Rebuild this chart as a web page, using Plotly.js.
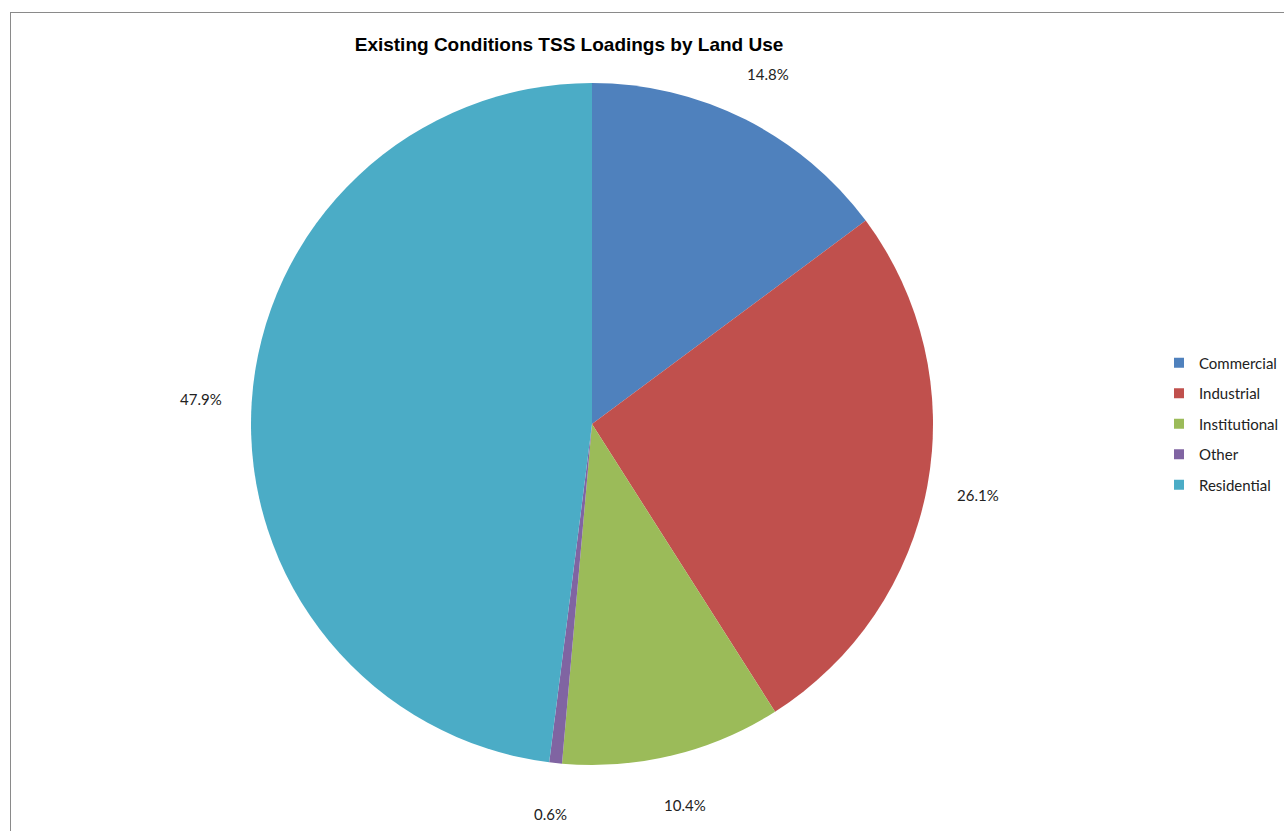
<!DOCTYPE html>
<html>
<head>
<meta charset="utf-8">
<script src="https://cdn.plot.ly/plotly-3.0.1.min.js"></script>
<style>
  html, body { margin: 0; padding: 0; background: #fff; overflow: hidden; }
  #chart { position: absolute; left: 0; top: 0; width: 1284px; height: 831px; }
  #frame { position: absolute; left: 10px; top: 12px; width: 1400px; height: 900px;
           border-left: 1px solid #8a8a8a; border-top: 1px solid #8a8a8a; pointer-events: none; }
</style>
</head>
<body>
<div id="chart"></div>
<div id="frame"></div>
<script>
const categories = ["Commercial", "Industrial", "Institutional", "Other", "Residential"];
const percentages = [14.8, 26.1, 10.4, 0.6, 47.9];
const colors = ["#4F81BD", "#C0504D", "#9BBB59", "#8064A2", "#4BACC6"];
const titleText = "Existing Conditions TSS Loadings by Land Use";

const W = 1284, H = 831;
const domX = [251 / W, 933 / W];
const domY = [1 - 765 / H, 1 - 83 / H];
const labelFont = { family: "Lato, 'Open Sans', sans-serif", size: 15, color: "#222" };

// Label positions derived from the data: mid-angle of each slice, slightly outside the pie
const cx = (domX[0] + domX[1]) / 2 * W;
const cy = (1 - (domY[0] + domY[1]) / 2) * H;
const R = Math.min((domX[1] - domX[0]) * W, (domY[1] - domY[0]) * H) / 2;
const total = percentages.reduce((a, b) => a + b, 0);
const annotations = [];
let cum = 0;
percentages.forEach((v, i) => {
  const mid = (cum + v / 2) / total * 2 * Math.PI;
  cum += v;
  const d = R * 1.15;
  const px = cx + d * Math.sin(mid);
  const py = cy - d * Math.cos(mid);
  annotations.push({
    x: px / W, y: 1 - py / H, xref: "paper", yref: "paper",
    xanchor: "center", yanchor: "middle", showarrow: false,
    text: v.toFixed(1) + "%",
    font: labelFont
  });
});

const pieTrace = {
  type: "pie",
  labels: categories,
  values: percentages,
  sort: false,
  direction: "clockwise",
  rotation: 0,
  marker: { colors: colors, line: { width: 0 } },
  textinfo: "none",
  showlegend: false,
  domain: { x: domX, y: domY }
};

// Legend entries (one per category, so that the entries can be spaced like the original)
const legendTraces = categories.map((c, i) => ({
  type: "scatter", mode: "markers",
  x: [null], y: [null],
  name: c, legendgroup: c,
  marker: { symbol: "square", size: 10, color: colors[i] },
  showlegend: true, hoverinfo: "skip"
}));

const layout = {
  width: W, height: H,
  margin: { l: 0, r: 0, t: 0, b: 0, autoexpand: false },
  paper_bgcolor: "#ffffff",
  plot_bgcolor: "rgba(0,0,0,0)",
  xaxis: { visible: false },
  yaxis: { visible: false },
  title: {
    text: "<b>" + titleText + "</b>",
    x: 569 / W, xanchor: "center", xref: "paper",
    y: 1 - 44 / H, yanchor: "middle", yref: "paper",
    font: { family: "'Liberation Sans', Arial, sans-serif", size: 19, color: "#000" }
  },
  showlegend: true,
  legend: {
    x: 1159 / W, xanchor: "left", y: 1 - 424 / H, yanchor: "middle",
    font: labelFont,
    bgcolor: "rgba(0,0,0,0)", itemwidth: 30,
    tracegroupgap: 8, traceorder: "grouped"
  },
  annotations: annotations
};

Plotly.newPlot("chart", [pieTrace].concat(legendTraces), layout, { displayModeBar: false, staticPlot: true });
</script>
</body>
</html>
